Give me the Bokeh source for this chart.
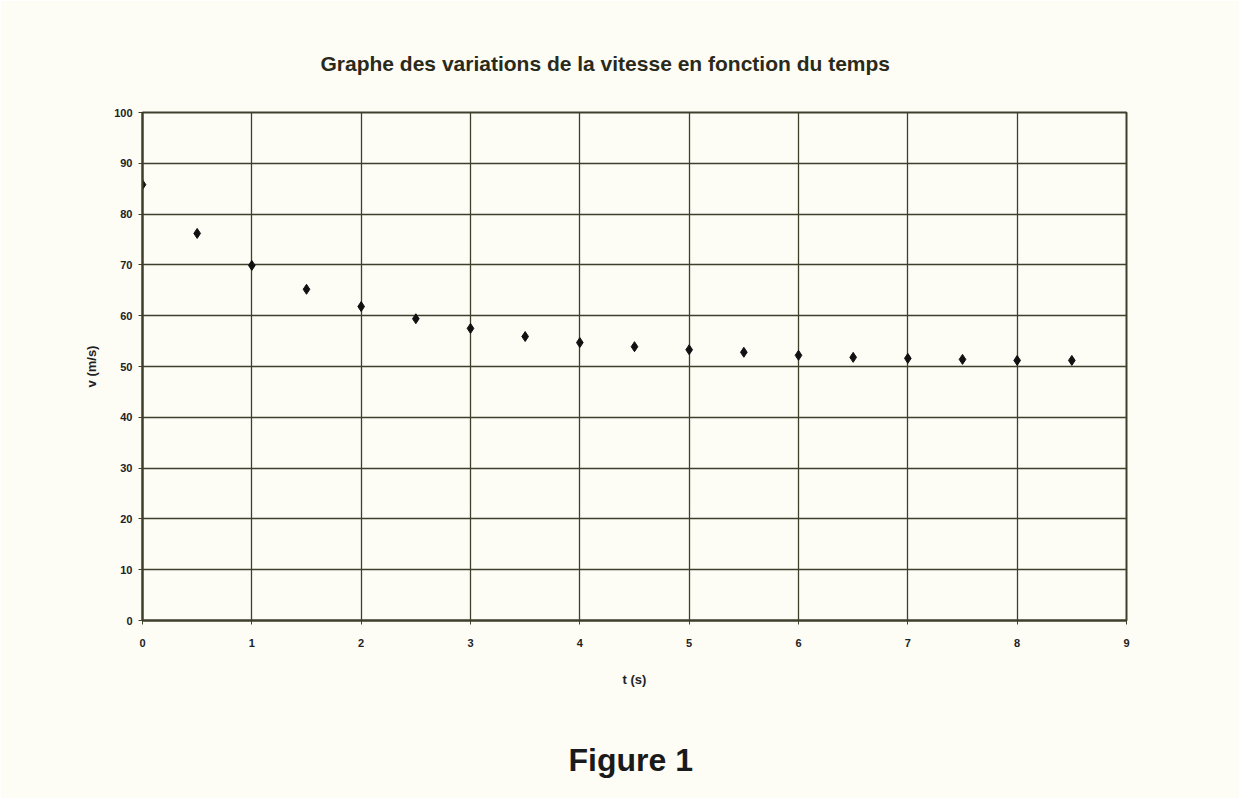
from bokeh.plotting import figure
from bokeh.models import Title, FixedTicker, Range1d
from bokeh.embed import file_html
from bokeh.resources import INLINE

t_values = [0, 0.5, 1, 1.5, 2, 2.5, 3, 3.5, 4, 4.5, 5, 5.5, 6, 6.5, 7, 7.5, 8, 8.5]
v_values = [85.8, 76.2, 69.9, 65.2, 61.8, 59.4, 57.5, 55.9, 54.7, 53.9, 53.3, 52.8, 52.2, 51.8, 51.6, 51.4, 51.2, 51.2]
x_ticks = [0, 1, 2, 3, 4, 5, 6, 7, 8, 9]
y_ticks = [0, 10, 20, 30, 40, 50, 60, 70, 80, 90, 100]

title_text = "Graphe des variations de la vitesse en fonction du temps"
caption_text = "Figure 1"
x_label = "t (s)"
y_label = "v (m/s)"

FONT = "Liberation Sans"
GRID = "#3f3f2c"
BG = "#fdfdf6"

p = figure(frame_width=984, frame_height=508, output_backend="svg", toolbar_location=None,
           x_range=Range1d(0, 9), y_range=Range1d(0, 100),
           min_border_left=142, min_border_right=113, min_border_top=112, min_border_bottom=150)
p.background_fill_color = BG
p.border_fill_color = BG
p.outline_line_color = GRID
p.outline_line_width = 2

p.title = Title(text=title_text, align="left", offset=178, standoff=75,
                text_font=FONT, text_font_size="21px", text_font_style="bold",
                text_color="#2a2a1a")

p.xaxis.ticker = FixedTicker(ticks=x_ticks)
p.yaxis.ticker = FixedTicker(ticks=y_ticks)
for ax in (p.xaxis[0], p.yaxis[0]):
    ax.axis_line_color = GRID
    ax.axis_line_width = 2
    ax.major_tick_line_color = GRID
    ax.major_tick_out = 4
    ax.major_tick_in = 0
    ax.minor_tick_line_color = None
    ax.major_label_text_font = FONT
    ax.major_label_text_font_size = "11px"
    ax.major_label_text_font_style = "bold"
    ax.major_label_text_color = "#222222"
    ax.axis_label_text_font = FONT
    ax.axis_label_text_font_size = "13px"
    ax.axis_label_text_font_style = "bold"
    ax.axis_label_text_color = "#222222"
p.xaxis.axis_label = x_label
p.yaxis.axis_label = y_label
p.xaxis.major_label_standoff = 14
p.xaxis.axis_label_standoff = 22
p.yaxis.major_label_standoff = 6
p.yaxis.axis_label_standoff = 12

p.xgrid.grid_line_color = GRID
p.xgrid.grid_line_width = 1.3
p.ygrid.grid_line_color = GRID
p.ygrid.grid_line_width = 1.6

p.scatter(t_values, v_values, marker="diamond", size=10, color="#111111")

p.add_layout(Title(text=caption_text, align="left", offset=426, standoff=101,
                   text_font=FONT, text_font_size="32px", text_font_style="bold",
                   text_line_height=0.8, text_color="#1a1a1a"), "below")

open("out.html", "w").write(file_html(p, INLINE))
